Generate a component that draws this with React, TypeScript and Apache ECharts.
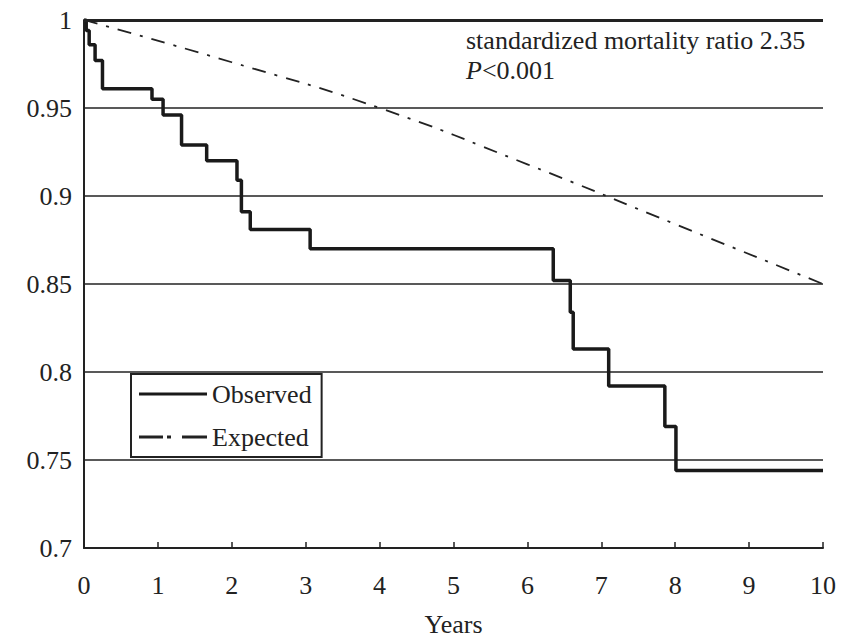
import React, { useEffect, useRef } from "react";
import * as echarts from "echarts";

const observedTimes = [0, 0.03, 0.07, 0.15, 0.25, 0.92, 1.07, 1.32, 1.66, 2.07, 2.13, 2.25, 3.06, 6.35, 6.58, 6.62, 7.1, 7.86, 8.01, 10];
const observedValues = [1, 0.994, 0.986, 0.977, 0.961, 0.955, 0.946, 0.929, 0.92, 0.909, 0.891, 0.881, 0.87, 0.852, 0.834, 0.813, 0.792, 0.769, 0.744, 0.744];
const expectedTimes = [0, 2, 4, 6, 8, 10];
const expectedValues = [1, 0.976, 0.95, 0.918, 0.884, 0.85];
const annotationLines = ["standardized mortality ratio 2.35", "P<0.001"];

const FONT = "Liberation Serif";
const FS = 26;

export default function App() {
  const ref = useRef<HTMLDivElement>(null);
  useEffect(() => {
    if (!ref.current) return;
    const chart = echarts.init(ref.current, undefined, { renderer: "svg" });
    chart.setOption({
      animation: false,
      backgroundColor: "#fff",
      textStyle: { fontFamily: FONT, color: "#222" },
      grid: { left: 84, right: 29, top: 20, bottom: 90, containLabel: false, outerBoundsMode: "none" },
      xAxis: {
        type: "value",
        min: 0,
        max: 10,
        interval: 1,
        name: "Years",
        nameLocation: "middle",
        nameGap: 63,
        nameTextStyle: { fontFamily: FONT, fontSize: FS, color: "#222" },
        axisLine: { show: true, lineStyle: { color: "#222", width: 2 } },
        axisTick: { show: true, inside: true, length: 6, lineStyle: { color: "#222", width: 1.5 } },
        axisLabel: { fontFamily: FONT, fontSize: FS, color: "#222", margin: 24 },
        splitLine: { show: false },
      },
      yAxis: {
        type: "value",
        min: 0.7,
        max: 1,
        interval: 0.05,
        axisLine: { show: true, lineStyle: { color: "#222", width: 2 } },
        axisTick: { show: false },
        axisLabel: {
          fontFamily: FONT,
          fontSize: FS,
          color: "#222",
          margin: 12,
          formatter: (v: number) => String(parseFloat(v.toFixed(2))),
        },
        splitLine: { show: true, lineStyle: { color: "#222", width: 1.5 } },
      },
      legend: {
        orient: "vertical",
        left: 131,
        top: 374,
        itemWidth: 68,
        itemHeight: 3,
        itemGap: 17,
        padding: [7, 10, 7, 8],
        borderColor: "#222",
        borderWidth: 2,
        backgroundColor: "#fff",
        textStyle: { fontFamily: FONT, fontSize: FS, color: "#222" },
        data: [
          { name: "Observed", icon: "path://M0,0H68V3H0Z" },
          { name: "Expected", icon: "path://M0,0H24V3H0Z M28,0H32V3H28Z M43,0H68V3H43Z" },
        ],
      },
      series: [
        {
          name: "Observed",
          type: "line",
          step: "end",
          symbol: "none",
          data: observedTimes.map((t, i) => [t, observedValues[i]]),
          lineStyle: { color: "#1a1a1a", width: 3.5 },
          itemStyle: { color: "#1a1a1a" },
          z: 3,
          markLine: {
            silent: true,
            symbol: "none",
            label: { show: false },
            lineStyle: { color: "#222", width: 3, type: "solid" },
            data: [{ yAxis: 1 }],
          },
        },
        {
          name: "Expected",
          type: "line",
          smooth: true,
          symbol: "none",
          data: expectedTimes.map((t, i) => [t, expectedValues[i]]),
          lineStyle: { color: "#222", width: 1.8, type: [14, 9, 3, 9] },
          itemStyle: { color: "#222" },
          z: 2,
        },
      ],
      graphic: [
        {
          type: "text",
          left: 466,
          top: 27,
          style: {
            text: annotationLines[0],
            fontFamily: FONT,
            fontSize: FS,
            fill: "#222",
          },
        },
        {
          type: "text",
          left: 466,
          top: 57,
          style: {
            text: "{i|P}{n|" + annotationLines[1].slice(1) + "}",
            rich: {
              i: { fontFamily: FONT, fontSize: FS, fontStyle: "italic", fill: "#222" },
              n: { fontFamily: FONT, fontSize: FS, fill: "#222" },
            },
          },
        },
      ],
    });
    return () => chart.dispose();
  }, []);
  return <div ref={ref} style={{ position: "absolute", left: 0, top: 0, width: 852, height: 638 }} />;
}
